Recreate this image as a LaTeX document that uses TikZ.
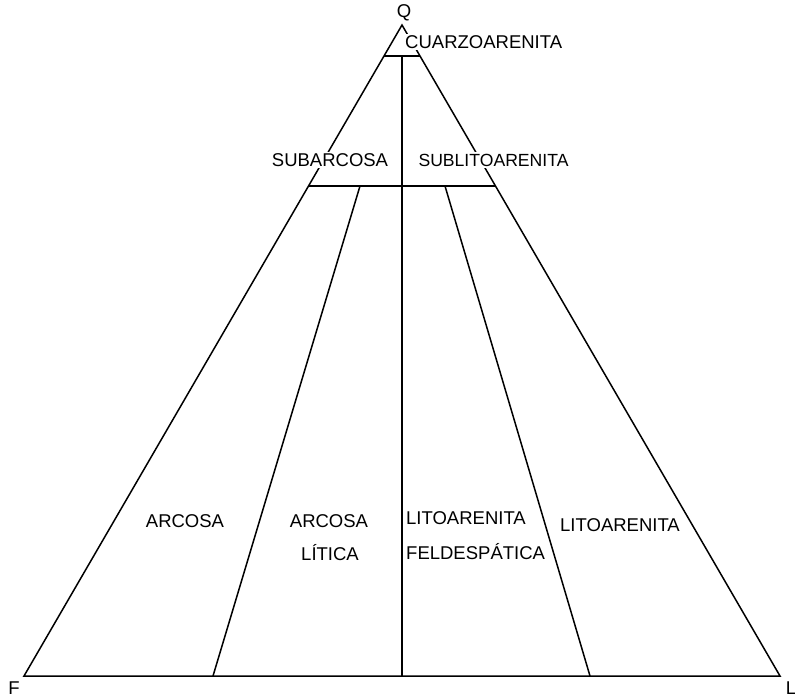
\documentclass[tikz,border=0pt]{standalone}
\usepackage{fontspec}
\setmainfont{Liberation Sans}
\begin{document}
\begin{tikzpicture}[x=1pt,y=-1pt,
  edge/.style={line width=1.5pt,line join=miter},
  lbl/.style={font=\fontsize{18.5}{20}\selectfont,inner sep=1.5pt,fill=white},
  vlbl/.style={font=\fontsize{18.5}{20}\selectfont,inner sep=0pt}]
\useasboundingbox (0,0) rectangle (795,697);
% vertices
\coordinate (Q) at (402,25);
\coordinate (F) at (24,676);
\coordinate (L) at (780,676);
\coordinate (a1) at (384,56);
\coordinate (a2) at (420,56);
\coordinate (b1) at (308.5,186);
\coordinate (b2) at (495.5,186);
\coordinate (c1) at (360,186);
\coordinate (c2) at (445,186);
\coordinate (d1) at (213,676);
\coordinate (d2) at (590,676);
\coordinate (m1) at (402,56);
\coordinate (m2) at (402,676);
% lines
\draw[edge] (F) -- (Q) -- (L) -- cycle;
\draw[edge] (a1) -- (a2);
\draw[edge] (b1) -- (b2);
\draw[edge] (c1) -- (d1);
\draw[edge] (c2) -- (d2);
\draw[edge] (m1) -- (m2);
% labels
\node[vlbl] (nQ) at (404,13) {Q};
\node[vlbl] (nF) at (14,688) {F};
\node[vlbl] (nL) at (791,688) {L};
\node[lbl,anchor=west] (cuarzo) at (403.5,42) {CUARZOARENITA};
\node[lbl] (subar) at (330,160) {SUBARCOSA};
\node[lbl,font=\fontsize{17.6}{20}\selectfont] (sublit) at (493.5,160) {SUBLITOARENITA};
\node[vlbl] (arcosa) at (185,521) {ARCOSA};
\node[vlbl] (arclit1) at (329,521) {ARCOSA};
\node[vlbl] (arclit2) at (330,553) {LÍTICA};
\node[vlbl,anchor=west] (litf1) at (406,518) {LITOARENITA};
\node[vlbl,anchor=west] (litf2) at (406,552) {FELDESPÁTICA};
\node[vlbl] (lito) at (620,525) {LITOARENITA};
\end{tikzpicture}
\end{document}
